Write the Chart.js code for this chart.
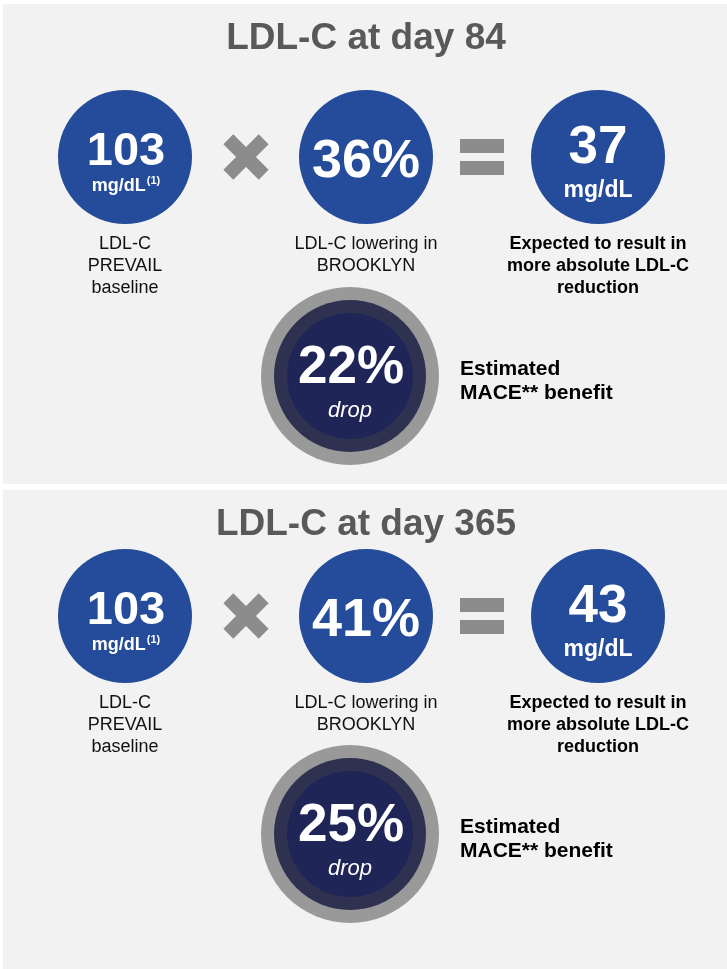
<!DOCTYPE html>
<html>
<head>
<meta charset="utf-8">
<script src="https://cdn.jsdelivr.net/npm/chart.js@4.4.1/dist/chart.umd.min.js"></script>
<style>
  html, body { margin: 0; padding: 0; background: #fff; }
  #wrap { width: 727px; height: 969px; position: relative; }
</style>
</head>
<body>
<div id="wrap"><canvas id="infoChart"></canvas></div>
<script>
const panelTitles = ['LDL-C at day 84', 'LDL-C at day 365'];
const baselineLdl = [103, 103];
const loweringPct = [36, 41];
const expectedDrop = [37, 43];
const maceDrop = [22, 25];
const baselineLabel = ['LDL-C', 'PREVAIL', 'baseline'];
const loweringLabel = ['LDL-C lowering in', 'BROOKLYN'];
const resultLabel = ['Expected to result in', 'more absolute LDL-C', 'reduction'];
const maceLabel = ['Estimated', 'MACE** benefit'];

// layout, in scale units (1 unit = 1px)
const colX = [125, 246, 366, 482, 598];
const rowY = [157, 616];
const ringX = 350;
const ringY = [376, 834];
const titleY = [49, 535];
const panelTop = [4, 490];
const panelBottom = [484, 969];

const FONT = '"Liberation Sans", Arial, sans-serif';
const BLUE = '#244c9a';
const SIGN = '#8c8c8c';

const panels = [0, 1];
const circlePts = panels.flatMap(p => [0, 2, 4].map(c => ({ x: colX[c], y: rowY[p] })));
const timesPts = panels.map(p => ({ x: colX[1], y: rowY[p] }));
const equalsPts = panels.flatMap(p => [{ x: colX[3], y: rowY[p] - 11 }, { x: colX[3], y: rowY[p] + 11 }]);
const ringPts = panels.map(p => ({ x: ringX, y: ringY[p] }));

function pt(style, r, color, extra) {
    return Object.assign({
        pointStyle: style,
        pointRadius: r,
        pointHoverRadius: r,
        backgroundColor: color,
        borderColor: color,
        borderWidth: 0,
        pointBorderWidth: 0
    }, extra);
}

const panelBg = {
    id: 'panelBg',
    beforeDraw(chart) {
        const { ctx, scales: { x, y } } = chart;
        ctx.save();
        ctx.fillStyle = '#ffffff';
        ctx.fillRect(0, 0, chart.width, chart.height);
        ctx.fillStyle = '#f2f2f2';
        panels.forEach(p => {
            const x0 = x.getPixelForValue(3), x1 = x.getPixelForValue(727);
            const y0 = y.getPixelForValue(panelTop[p]), y1 = y.getPixelForValue(panelBottom[p]);
            ctx.fillRect(x0, y0, x1 - x0, y1 - y0);
        });
        ctx.restore();
    }
};

const texts = {
    id: 'texts',
    afterDatasetsDraw(chart) {
        const { ctx, scales: { x, y } } = chart;
        const put = (str, vx, vy, font, color, align) => {
            ctx.font = font;
            ctx.fillStyle = color;
            ctx.textAlign = align || 'center';
            ctx.textBaseline = 'alphabetic';
            ctx.fillText(str, x.getPixelForValue(vx), y.getPixelForValue(vy));
        };
        ctx.save();
        panels.forEach(p => {
            const cy = rowY[p];
            put(panelTitles[p], 366, titleY[p], 'bold 37px ' + FONT, '#595959');

            // baseline circle
            put(String(baselineLdl[p]), colX[0] + 1, cy + 8, 'bold 47px ' + FONT, '#fff');
            ctx.font = 'bold 18px ' + FONT;
            const w1 = ctx.measureText('mg/dL').width;
            ctx.font = 'bold 11px ' + FONT;
            const w2 = ctx.measureText('(1)').width + 1;
            const start = colX[0] + 1 - (w1 + w2) / 2;
            put('mg/dL', start, cy + 34, 'bold 18px ' + FONT, '#fff', 'left');
            put('(1)', start + w1 + 1, cy + 27, 'bold 11px ' + FONT, '#fff', 'left');

            put(loweringPct[p] + '%', colX[2], cy + 20, 'bold 54px ' + FONT, '#fff');
            put(String(expectedDrop[p]), colX[4], cy + 6, 'bold 53px ' + FONT, '#fff');
            put('mg/dL', colX[4], cy + 40, 'bold 23px ' + FONT, '#fff');

            baselineLabel.forEach((s, i) => put(s, colX[0], cy + 92 + i * 22, '18px ' + FONT, '#111'));
            loweringLabel.forEach((s, i) => put(s, colX[2], cy + 92 + i * 22, '18px ' + FONT, '#111'));
            resultLabel.forEach((s, i) => put(s, colX[4], cy + 92 + i * 22, 'bold 18px ' + FONT, '#000'));

            const ry = ringY[p];
            put(maceDrop[p] + '%', ringX + 1, ry + 7, 'bold 53px ' + FONT, '#fff');
            put('drop', ringX, ry + 41, 'italic 22px ' + FONT, '#fff');
            maceLabel.forEach((s, i) => put(s, 460, ry - 1 + i * 24, 'bold 21px ' + FONT, '#000', 'left'));
        });
        ctx.restore();
    }
};

new Chart(document.getElementById('infoChart'), {
    type: 'scatter',
    data: {
        datasets: [
            Object.assign({ data: circlePts, order: 1 }, pt('circle', 67, BLUE)),
            Object.assign({ data: timesPts, order: 1 }, pt('crossRot', 25, SIGN, { borderWidth: 14, pointBorderWidth: 14 })),
            Object.assign({ data: equalsPts, order: 1 }, pt('line', 22, SIGN, { borderWidth: 14, pointBorderWidth: 14 })),
            Object.assign({ data: ringPts, order: 3 }, pt('circle', 89, '#999999')),
            Object.assign({ data: ringPts, order: 2 }, pt('circle', 76, '#2e3250')),
            Object.assign({ data: ringPts, order: 1 }, pt('circle', 63, '#1f2557'))
        ]
    },
    options: {
        responsive: true,
        maintainAspectRatio: false,
        animation: false,
        events: [],
        layout: { autoPadding: false, padding: 0 },
        scales: {
            x: { type: 'linear', min: 0, max: 727, display: false },
            y: { type: 'linear', min: 0, max: 969, reverse: true, display: false }
        },
        plugins: {
            legend: { display: false },
            tooltip: { enabled: false }
        }
    },
    plugins: [panelBg, texts]
});
</script>
</body>
</html>
